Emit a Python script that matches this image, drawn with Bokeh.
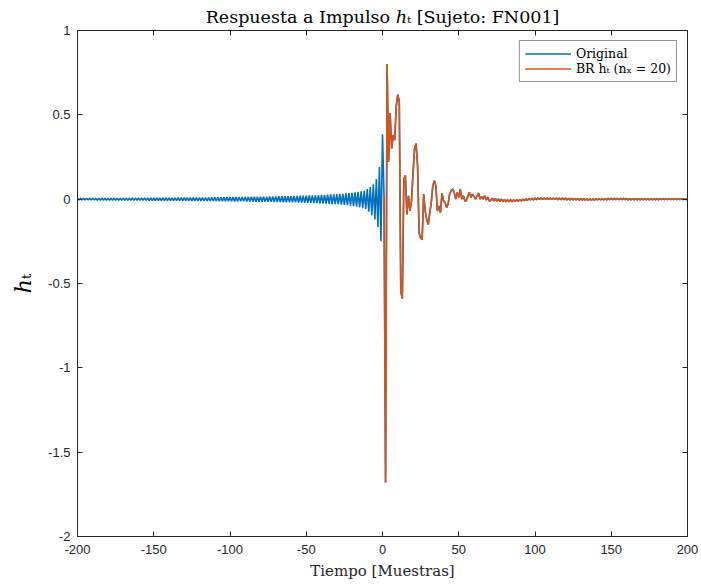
from bokeh.plotting import figure
from bokeh.models import FixedTicker, LinearAxis, Range1d, Legend, LegendItem
from bokeh.embed import file_html
from bokeh.resources import INLINE

# ---------------- data ----------------
t_all = list(range(-200, 201))          # sample index for the original response
t_br = list(range(1, 201))              # sample index for the BR model

# original response, t = -200 .. 0 (pre-ringing)
orig_neg = [
    0.005, -0.005, 0.005, -0.005, 0.005, -0.005, 0.005, -0.005, 0.005, -0.005,
    0.005, -0.005, 0.005, -0.006, 0.005, -0.006, 0.005, -0.006, 0.006, -0.006,
    0.006, -0.006, 0.006, -0.006, 0.006, -0.006, 0.006, -0.006, 0.006, -0.006,
    0.006, -0.007, 0.006, -0.007, 0.006, -0.007, 0.007, -0.007, 0.007, -0.007,
    0.007, -0.007, 0.007, -0.007, 0.007, -0.007, 0.007, -0.008, 0.007, -0.008,
    0.007, -0.008, 0.008, -0.008, 0.008, -0.008, 0.008, -0.008, 0.008, -0.008,
    0.008, -0.009, 0.008, -0.009, 0.008, -0.009, 0.009, -0.009, 0.009, -0.009,
    0.009, -0.009, 0.009, -0.010, 0.009, -0.010, 0.009, -0.010, 0.010, -0.010,
    0.010, -0.010, 0.010, -0.011, 0.010, -0.011, 0.010, -0.011, 0.011, -0.011,
    0.011, -0.011, 0.011, -0.012, 0.011, -0.012, 0.011, -0.012, 0.012, -0.012,
    0.012, -0.012, 0.012, -0.013, 0.012, -0.013, 0.013, -0.013, 0.013, -0.013,
    0.013, -0.014, 0.013, -0.014, 0.014, -0.014, 0.014, -0.015, 0.014, -0.015,
    0.015, -0.015, 0.015, -0.016, 0.015, -0.016, 0.016, -0.016, 0.016, -0.017,
    0.016, -0.017, 0.017, -0.017, 0.017, -0.018, 0.017, -0.018, 0.018, -0.018,
    0.018, -0.019, 0.019, -0.019, 0.019, -0.020, 0.020, -0.020, 0.020, -0.021,
    0.021, -0.022, 0.022, -0.022, 0.022, -0.023, 0.023, -0.024, 0.024, -0.025,
    0.025, -0.026, 0.026, -0.027, 0.027, -0.028, 0.028, -0.029, 0.029, -0.030,
    0.030, -0.031, 0.031, -0.033, 0.032, -0.034, 0.034, -0.036, 0.036, -0.038,
    0.038, -0.041, 0.040, -0.044, 0.043, -0.048, 0.046, -0.053, 0.050, -0.058,
    0.060, -0.075, 0.072, -0.095, 0.088, -0.120, 0.120, -0.165, 0.190, -0.250,
    0.385,
]

# BR model response, t = 1 .. 200
br_vals = [
    0.020, -1.680, 0.800, 0.220, 0.510, 0.300, 0.380, 0.350, 0.550, 0.620,
    0.580, -0.550, -0.590, 0.120, 0.140, -0.090, 0.020, -0.070, -0.010, 0.150,
    0.300, 0.330, 0.200, -0.200, -0.230, -0.240, 0.030, -0.070, -0.120, -0.150,
    -0.080, -0.020, 0.080, 0.110, 0.080, -0.070, -0.040, -0.080, 0.035, -0.010,
    -0.020, -0.050, -0.030, 0.030, 0.050, 0.060, 0.040, 0.000, 0.040, 0.010,
    0.060, 0.000, 0.020, -0.010, -0.010, 0.020, 0.040, 0.010, 0.030, 0.015,
    0.000, 0.020, 0.035, 0.000, 0.015, 0.000, 0.020, -0.005, 0.012, -0.010,
    -0.008, 0.006, -0.010, 0.004, -0.012, 0.002, -0.014, 0.000, -0.015, -0.002,
    -0.016, -0.003, -0.016, -0.004, -0.015, -0.004, -0.014, -0.003, -0.013, -0.002,
    -0.011, 0.000, -0.009, 0.002, -0.007, 0.004, -0.005, 0.005, -0.004, 0.006,
    -0.003, 0.007, -0.002, 0.007, -0.002, 0.007, -0.002, 0.007, -0.002, 0.007,
    -0.002, 0.007, -0.002, 0.007, -0.003, 0.006, -0.003, 0.006, -0.003, 0.006,
    -0.004, 0.005, -0.004, 0.005, -0.005, 0.004, -0.005, 0.004, -0.006, 0.003,
    -0.006, 0.003, -0.006, 0.002, -0.006, 0.002, -0.006, 0.002, -0.006, 0.003,
    -0.005, 0.003, -0.005, 0.004, -0.004, 0.004, -0.004, 0.005, -0.003, 0.005,
    -0.003, 0.005, -0.003, 0.005, -0.003, 0.005, -0.003, 0.005, -0.003, 0.004,
    -0.004, 0.004, -0.004, 0.004, -0.004, 0.004, -0.004, 0.004, -0.004, 0.004,
    -0.004, 0.003, -0.004, 0.003, -0.004, 0.003, -0.004, 0.003, -0.004, 0.003,
    -0.004, 0.003, -0.003, 0.003, -0.003, 0.003, -0.003, 0.003, -0.003, 0.003,
    -0.003, 0.003, -0.003, 0.003, -0.003, 0.003, -0.003, 0.003, -0.003, 0.003,
]

orig_vals = orig_neg + br_vals          # original follows the model for t >= 1

x_ticks = [-200, -150, -100, -50, 0, 50, 100, 150, 200]
x_tick_labels = ["-200", "-150", "-100", "-50", "0", "50", "100", "150", "200"]
y_ticks = [-2, -1.5, -1, -0.5, 0, 0.5, 1]
y_tick_labels = ["-2", "-1.5", "-1", "-0.5", "0", "0.5", "1"]

title_text = "Respuesta a Impulso ℎₜ [Sujeto: FN001]"
x_label = "Tiempo [Muestras]"
y_label = "ℎₜ"
legend_labels = ["Original", "BR h̄ₜ (nₓ = 20)"]

BLUE = "#0072BD"
ORANGE = "#D95319"
AX = "#262626"
SERIF = "DejaVu Serif"
SANS = "Liberation Sans"

# ---------------- figure ----------------
p = figure(width=701, height=584, output_backend="svg", toolbar_location=None,
           x_range=Range1d(-200, 200), y_range=Range1d(-2, 1),
           min_border_left=77, min_border_right=14, min_border_top=30,
           min_border_bottom=48)
p.background_fill_color = "white"
p.border_fill_color = "white"
p.grid.visible = False
p.outline_line_color = AX
p.outline_line_width = 1

p.title.text = title_text
p.title.align = "center"
p.title.text_font = SERIF
p.title.text_font_size = "17.5px"
p.title.text_font_style = "normal"
p.title.text_color = "black"
p.title.standoff = 8


def style_axis(ax, ticks, labels, show_labels=True, standoff=4):
    ax.ticker = FixedTicker(ticks=ticks)
    ax.major_label_overrides = {t: l for t, l in zip(ticks, labels)}
    ax.minor_tick_line_color = None
    ax.major_tick_in = 5
    ax.major_tick_out = 0
    ax.axis_line_color = AX
    ax.major_tick_line_color = AX
    ax.major_label_text_font = SANS
    if show_labels:
        ax.major_label_text_color = AX
        ax.major_label_text_font_size = "13px"
    else:
        ax.major_label_text_color = None
        ax.major_label_text_font_size = "1px"
    ax.major_label_standoff = standoff


xa = p.xaxis[0]
ya = p.yaxis[0]
style_axis(xa, x_ticks, x_tick_labels, standoff=8)
style_axis(ya, y_ticks, y_tick_labels, standoff=7)
xa.axis_label = x_label
xa.axis_label_text_font = SERIF
xa.axis_label_text_font_size = "15px"
xa.axis_label_text_font_style = "normal"
xa.axis_label_text_color = AX
xa.axis_label_standoff = 5
ya.axis_label = y_label
ya.axis_label_text_font = SERIF
ya.axis_label_text_font_size = "22px"
ya.axis_label_text_font_style = "normal"
ya.axis_label_text_color = "black"
ya.axis_label_standoff = 9

ra = LinearAxis()
style_axis(ra, y_ticks, y_tick_labels, show_labels=False, standoff=0)
p.add_layout(ra, "right")
ta = LinearAxis()
style_axis(ta, x_ticks, x_tick_labels, show_labels=False, standoff=0)
p.add_layout(ta, "above")

r1 = p.line(t_all, orig_vals, line_color=BLUE, line_width=1.6)
r2 = p.line(t_br, br_vals, line_color=ORANGE, line_width=1.6)

legend = Legend(items=[LegendItem(label=legend_labels[0], renderers=[r1]),
                       LegendItem(label=legend_labels[1], renderers=[r2])],
                location="top_right")
legend.border_line_color = AX
legend.border_line_width = 1
legend.background_fill_color = "white"
legend.background_fill_alpha = 1
legend.label_text_font = SERIF
legend.label_text_font_size = "12.5px"
legend.label_text_color = "black"
legend.glyph_width = 46
legend.glyph_height = 15
legend.label_height = 15
legend.label_standoff = 5
legend.spacing = 0
legend.padding = 5
legend.margin = 10
p.add_layout(legend)

open("out.html", "w").write(file_html(p, INLINE))
